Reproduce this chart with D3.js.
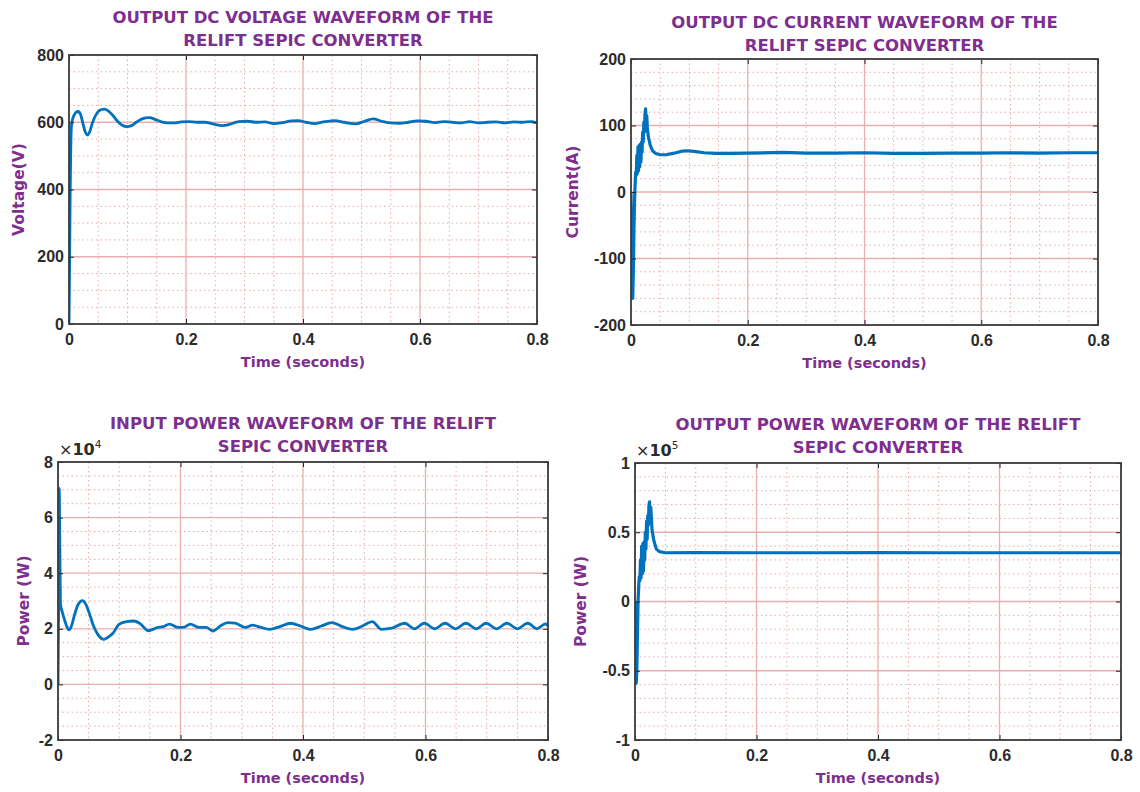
<!DOCTYPE html>
<html>
<head>
<meta charset="utf-8">
<script src="https://cdn.jsdelivr.net/npm/d3@7"></script>
<style>
  body { margin: 0; background: #fff; }
  svg { display: block; font-family: "DejaVu Sans", Verdana, sans-serif; }
  .tick text { font-weight: bold; font-size: 16px; fill: #2b2b2b; }
  .tick line { stroke: #262626; }
</style>
</head>
<body>
<div id="chart"></div>
<script>
// time axis shared by every panel
const timeTicks = [0, 0.2, 0.4, 0.6, 0.8];

// output DC voltage [t (s), V]
const voltageSeries = [
  [0, 0], [0.001, 180], [0.002, 380], [0.003, 520], [0.004, 585], [0.006, 608],
  [0.009, 622], [0.012, 630], [0.016, 632], [0.020, 622], [0.024, 595], [0.028, 570],
  [0.031, 562], [0.035, 570], [0.040, 598], [0.046, 622], [0.052, 635], [0.060, 639],
  [0.067, 634], [0.075, 620], [0.083, 603], [0.091, 591], [0.099, 587], [0.107, 590],
  [0.115, 600], [0.125, 610], [0.137, 614], [0.148, 608], [0.158, 601], [0.168, 598],
  [0.180, 598], [0.192, 601], [0.205, 602], [0.218, 600], [0.232, 600], [0.246, 595],
  [0.262, 590], [0.275, 594], [0.290, 602], [0.305, 603], [0.320, 600], [0.335, 601],
  [0.350, 596], [0.365, 599], [0.380, 604], [0.392, 605], [0.405, 600], [0.420, 596],
  [0.435, 601], [0.455, 605], [0.470, 600], [0.490, 595], [0.505, 603], [0.520, 610],
  [0.535, 603], [0.550, 598], [0.565, 597], [0.580, 600], [0.595, 604], [0.610, 603],
  [0.625, 599], [0.640, 602], [0.655, 600], [0.670, 598], [0.685, 602], [0.700, 598],
  [0.715, 600], [0.730, 601], [0.745, 598], [0.760, 601], [0.775, 600], [0.790, 602],
  [0.800, 598]
];
const voltageTicks = [0, 200, 400, 600, 800];

// output DC current [t (s), A]
const currentSeries = [
  [0, 0], [0.001, -90], [0.002, -150], [0.003, -160], [0.004, -120], [0.005, -60],
  [0.006, -15], [0.007, 10], [0.008, 30], [0.009, 25], [0.010, 55], [0.011, 28],
  [0.012, 68], [0.013, 32], [0.014, 70], [0.015, 38], [0.016, 72], [0.017, 45],
  [0.018, 75], [0.019, 60], [0.020, 90], [0.021, 75], [0.022, 105], [0.023, 90],
  [0.024, 118], [0.025, 125], [0.026, 105], [0.027, 115], [0.028, 95], [0.030, 82],
  [0.033, 70], [0.037, 62], [0.042, 58], [0.050, 56], [0.060, 56], [0.072, 58],
  [0.085, 61], [0.095, 62], [0.108, 61], [0.125, 59], [0.145, 58], [0.170, 58],
  [0.200, 58.5], [0.260, 59.5], [0.300, 58.5], [0.350, 58.5], [0.400, 59], [0.450, 58],
  [0.500, 58], [0.550, 58.5], [0.600, 58.5], [0.650, 59], [0.700, 58.5], [0.750, 59],
  [0.800, 59]
];
const currentTicks = [-200, -100, 0, 100, 200];

// input power [t (s), W x 1e4]
const inPowerSeries = [
  [0, 0], [0.0015, 4], [0.002, 7.05], [0.003, 5], [0.004, 2.9], [0.007, 2.6],
  [0.011, 2.3], [0.015, 2.05], [0.018, 1.96], [0.022, 2.1], [0.027, 2.5], [0.033, 2.88],
  [0.040, 3.01], [0.046, 2.85], [0.052, 2.5], [0.058, 2.1], [0.065, 1.8], [0.071, 1.65],
  [0.075, 1.62], [0.082, 1.7], [0.090, 1.85], [0.100, 2.17], [0.112, 2.26], [0.124, 2.28],
  [0.135, 2.17], [0.147, 1.93], [0.162, 2.04], [0.172, 2.08], [0.182, 2.17], [0.196, 2.05],
  [0.206, 2.06], [0.216, 2.17], [0.230, 2.05], [0.242, 2.05], [0.253, 1.92], [0.265, 2.1],
  [0.277, 2.22], [0.289, 2.2], [0.306, 2.05], [0.318, 2.13], [0.330, 2.06], [0.346, 1.98],
  [0.362, 2.08], [0.380, 2.2], [0.396, 2.1], [0.412, 1.98], [0.430, 2.1], [0.447, 2.22],
  [0.464, 2.08], [0.481, 1.98], [0.497, 2.1], [0.513, 2.26], [0.528, 1.98], [0.545, 2.02],
  [0.566, 2.2], [0.582, 2.0], [0.598, 2.2], [0.615, 2.0], [0.632, 2.2], [0.649, 2.0],
  [0.666, 2.2], [0.683, 2.0], [0.699, 2.2], [0.716, 2.0], [0.733, 2.2], [0.750, 2.0],
  [0.767, 2.2], [0.782, 2.0], [0.796, 2.18], [0.800, 2.1]
];
const inPowerTicks = [-2, 0, 2, 4, 6, 8];

// output power [t (s), W x 1e5]
const outPowerSeries = [
  [0, 0], [0.001, -0.3], [0.002, -0.59], [0.003, -0.5], [0.004, -0.25], [0.005, 0],
  [0.006, 0.1], [0.007, 0.18], [0.008, 0.15], [0.009, 0.3], [0.010, 0.17], [0.011, 0.4],
  [0.012, 0.2], [0.013, 0.42], [0.014, 0.22], [0.015, 0.43], [0.016, 0.3], [0.017, 0.5],
  [0.018, 0.38], [0.019, 0.58], [0.020, 0.45], [0.021, 0.62], [0.022, 0.55], [0.023, 0.7],
  [0.024, 0.72], [0.025, 0.6], [0.026, 0.68], [0.028, 0.52], [0.031, 0.44], [0.035, 0.38],
  [0.040, 0.36], [0.050, 0.352], [0.100, 0.353], [0.200, 0.352], [0.300, 0.352],
  [0.400, 0.353], [0.500, 0.352], [0.600, 0.352], [0.700, 0.352], [0.800, 0.352]
];
const outPowerTicks = [-1, -0.5, 0, 0.5, 1];

const titles = [
  ["OUTPUT DC VOLTAGE WAVEFORM OF THE", "RELIFT SEPIC CONVERTER"],
  ["OUTPUT DC CURRENT WAVEFORM OF THE", "RELIFT SEPIC CONVERTER"],
  ["INPUT POWER WAVEFORM OF THE RELIFT", "SEPIC CONVERTER"],
  ["OUTPUT POWER WAVEFORM OF THE RELIFT", "SEPIC CONVERTER"]
];
const yLabels = ["Voltage(V)", "Current(A)", "Power (W)", "Power (W)"];

const purple = "#7e2f8e";
const lineBlue = "#0072bd";

const svg = d3.select("#chart").append("svg")
  .attr("width", 1140)
  .attr("height", 792);

const panels = [
  { box: [69, 537, 55, 324], data: voltageSeries, ticks: voltageTicks, minor: 50,
    title: titles[0], titleY: 23, ylabel: yLabels[0], ylabelX: 24, lw: 2.8, smooth: true },
  { box: [631, 1098, 59, 325], data: currentSeries, ticks: currentTicks, minor: 20,
    title: titles[1], titleY: 28, ylabel: yLabels[1], ylabelX: 578, lw: 3.2 },
  { box: [58, 548, 462, 740], data: inPowerSeries, ticks: inPowerTicks, minor: 0.5,
    title: titles[2], titleY: 429, ylabel: yLabels[2], ylabelX: 29, lw: 2.8, exp: "4", smooth: true },
  { box: [635, 1121, 463, 740], data: outPowerSeries, ticks: outPowerTicks, minor: 0.1,
    title: titles[3], titleY: 430, ylabel: yLabels[3], ylabelX: 586, lw: 3.2, exp: "5" }
];

panels.forEach(function (p, i) {
  const [left, right, top, bottom] = p.box;
  const g = svg.append("g");

  const xScale = d3.scaleLinear().domain([0, 0.8]).range([left, right]);
  const yScale = d3.scaleLinear()
    .domain([p.ticks[0], p.ticks[p.ticks.length - 1]])
    .range([bottom, top]);

  // minor grid (dotted)
  const minorX = d3.range(0, 0.8001, 0.05).filter(function (v) { return Math.abs(v / 0.2 - Math.round(v / 0.2)) > 1e-6; });
  const y0 = p.ticks[0], y1 = p.ticks[p.ticks.length - 1];
  const majorStep = p.ticks[1] - p.ticks[0];
  const minorY = d3.range(y0, y1 + p.minor / 2, p.minor).filter(function (v) {
    const r = (v - y0) / majorStep;
    return Math.abs(r - Math.round(r)) > 1e-6;
  });
  g.selectAll(".minorx").data(minorX).enter().append("line")
    .attr("x1", function (d) { return xScale(d); }).attr("x2", function (d) { return xScale(d); })
    .attr("y1", top).attr("y2", bottom)
    .attr("stroke", "#e8aaaa").attr("stroke-width", 1).attr("stroke-dasharray", "1.5,3");
  g.selectAll(".minory").data(minorY).enter().append("line")
    .attr("x1", left).attr("x2", right)
    .attr("y1", function (d) { return yScale(d); }).attr("y2", function (d) { return yScale(d); })
    .attr("stroke", "#e8aaaa").attr("stroke-width", 1).attr("stroke-dasharray", "1.5,3");

  // major grid
  g.selectAll(".majorx").data(timeTicks.slice(1, -1)).enter().append("line")
    .attr("x1", function (d) { return xScale(d); }).attr("x2", function (d) { return xScale(d); })
    .attr("y1", top).attr("y2", bottom)
    .attr("stroke", "#eaaeae").attr("stroke-width", 1.3);
  g.selectAll(".majory").data(p.ticks.slice(1, -1)).enter().append("line")
    .attr("x1", left).attr("x2", right)
    .attr("y1", function (d) { return yScale(d); }).attr("y2", function (d) { return yScale(d); })
    .attr("stroke", "#eaaeae").attr("stroke-width", 1.3);

  // waveform
  const clipId = "clip" + i;
  svg.append("clipPath").attr("id", clipId).append("rect")
    .attr("x", left).attr("y", top).attr("width", right - left).attr("height", bottom - top);
  const line = d3.line()
    .x(function (d) { return xScale(d[0]); })
    .y(function (d) { return yScale(d[1]); })
    .curve(p.smooth ? d3.curveMonotoneX : d3.curveLinear);
  g.append("path")
    .datum(p.data)
    .attr("clip-path", "url(#" + clipId + ")")
    .attr("fill", "none")
    .attr("stroke", lineBlue)
    .attr("stroke-width", p.lw)
    .attr("stroke-linejoin", "round")
    .attr("d", line);

  // axes (inward ticks)
  const fmt = function (d) { return String(d); };
  g.append("g")
    .attr("transform", "translate(0," + bottom + ")")
    .call(d3.axisBottom(xScale).tickValues(timeTicks).tickFormat(fmt).tickSizeInner(-5).tickSizeOuter(0).tickPadding(10))
    .call(function (a) { a.select(".domain").remove(); });
  g.append("g")
    .attr("transform", "translate(0," + top + ")")
    .call(d3.axisTop(xScale).tickValues(timeTicks).tickFormat("").tickSizeInner(-5).tickSizeOuter(0))
    .call(function (a) { a.select(".domain").remove(); });
  g.append("g")
    .attr("transform", "translate(" + left + ",0)")
    .call(d3.axisLeft(yScale).tickValues(p.ticks).tickFormat(fmt).tickSizeInner(-5).tickSizeOuter(0).tickPadding(5))
    .call(function (a) { a.select(".domain").remove(); });
  g.append("g")
    .attr("transform", "translate(" + right + ",0)")
    .call(d3.axisRight(yScale).tickValues(p.ticks).tickFormat("").tickSizeInner(-5).tickSizeOuter(0))
    .call(function (a) { a.select(".domain").remove(); });

  // box
  g.append("rect")
    .attr("x", left).attr("y", top)
    .attr("width", right - left).attr("height", bottom - top)
    .attr("fill", "none").attr("stroke", "#3a3a3a").attr("stroke-width", 1.8);

  // title
  const cx = (left + right) / 2;
  g.append("text")
    .attr("x", cx).attr("y", p.titleY)
    .attr("text-anchor", "middle")
    .attr("fill", purple).attr("font-weight", "bold").attr("font-size", "16.5px")
    .text(p.title[0]);
  g.append("text")
    .attr("x", cx).attr("y", p.titleY + 22.5)
    .attr("text-anchor", "middle")
    .attr("fill", purple).attr("font-weight", "bold").attr("font-size", "16.5px")
    .text(p.title[1]);

  // x label
  g.append("text")
    .attr("x", cx).attr("y", bottom + 43)
    .attr("text-anchor", "middle")
    .attr("fill", purple).attr("font-weight", "bold").attr("font-size", "14.5px")
    .text("Time (seconds)");

  // y label
  const cy = (top + bottom) / 2;
  g.append("text")
    .attr("transform", "translate(" + p.ylabelX + "," + cy + ") rotate(-90)")
    .attr("text-anchor", "middle")
    .attr("fill", purple).attr("font-weight", "bold").attr("font-size", "15.5px")
    .text(p.ylabel);

  // exponent marker
  if (p.exp) {
    const t = g.append("text")
      .attr("x", left + 1).attr("y", top - 7)
      .attr("fill", "#2b2b2b").attr("font-size", "16px");
    t.append("tspan").text("\u00d7");
    t.append("tspan").attr("font-weight", "bold").text("10");
    t.append("tspan").attr("font-size", "10.5px").attr("dy", "-7").text(p.exp);
  }
});
</script>
</body>
</html>
